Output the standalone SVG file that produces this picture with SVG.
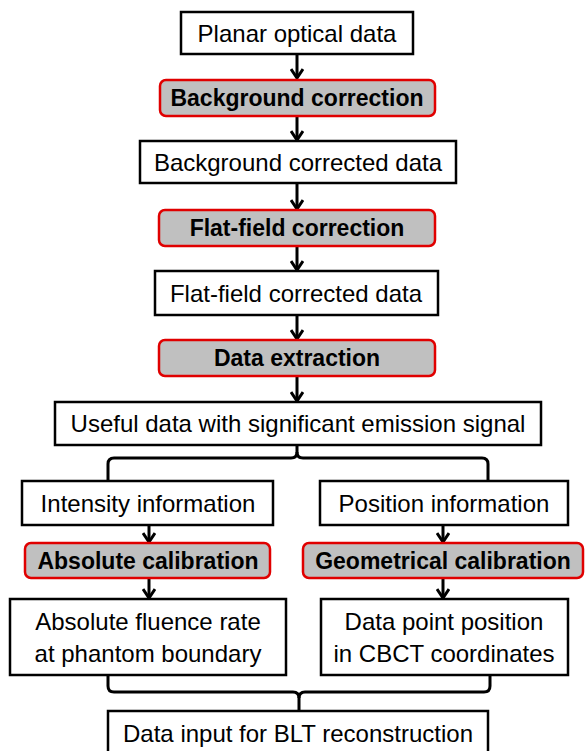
<svg xmlns="http://www.w3.org/2000/svg" width="586" height="751" viewBox="0 0 586 751">
<defs>
<style>
.box{fill:#fff;stroke:#000;stroke-width:2.5}
.step{fill:#c0c0c0;stroke:#e00000;stroke-width:2.5}
.t{font-family:"Liberation Sans",Arial,sans-serif;font-size:24px;fill:#000;text-anchor:middle}
.b{font-weight:bold;font-size:23px}
.c{fill:none;stroke:#000;stroke-width:3}
</style>
<marker id="ah" viewBox="0 0 12 14" refX="10" refY="7" markerWidth="12" markerHeight="14" markerUnits="userSpaceOnUse" orient="auto">
<path d="M1,1 L10,7 L1,13" fill="none" stroke="#000" stroke-width="3"/>
</marker>
</defs>
<g id="connectors">
<path class="c" d="M297,54 V78" marker-end="url(#ah)"/>
<path class="c" d="M297,116 V140" marker-end="url(#ah)"/>
<path class="c" d="M297,183 V209" marker-end="url(#ah)"/>
<path class="c" d="M297,246 V270" marker-end="url(#ah)"/>
<path class="c" d="M297,315 V339" marker-end="url(#ah)"/>
<path class="c" d="M297,376 V401" marker-end="url(#ah)"/>
<path class="c" d="M297,445 V452 Q297,458 291,458 H114 Q108,458 108,464 V481"/>
<path class="c" d="M297,452 Q297,458 303,458 H482 Q488,458 488,464 V481"/>
<path class="c" d="M149,525 V542" marker-end="url(#ah)"/>
<path class="c" d="M443,525 V542" marker-end="url(#ah)"/>
<path class="c" d="M149,578 V598" marker-end="url(#ah)"/>
<path class="c" d="M443,578 V598" marker-end="url(#ah)"/>
<path class="c" d="M108,675 V686 Q108,692 114,692 H293 Q299,692 299,698 V711"/>
<path class="c" d="M490,675 V686 Q490,692 484,692 H305 Q299,692 299,698"/>
</g>
<g id="n1"><rect class="box" x="181" y="12" width="232" height="42"/><text class="t" x="297" y="41.5">Planar optical data</text></g>
<g id="n2"><rect class="step" x="160" y="80" width="275" height="36" rx="6"/><text class="t b" x="297" y="106">Background correction</text></g>
<g id="n3"><rect class="box" x="140" y="141" width="316" height="42"/><text class="t" x="298" y="170.5">Background corrected data</text></g>
<g id="n4"><rect class="step" x="159" y="210" width="276" height="36" rx="6"/><text class="t b" x="297" y="236">Flat-field correction</text></g>
<g id="n5"><rect class="box" x="155" y="271" width="283" height="44"/><text class="t" x="296" y="301.5">Flat-field corrected data</text></g>
<g id="n6"><rect class="step" x="159" y="340" width="276" height="36" rx="6"/><text class="t b" x="297" y="366">Data extraction</text></g>
<g id="n7"><rect class="box" x="55" y="402" width="486" height="43"/><text class="t" x="298" y="432">Useful data with significant emission signal</text></g>
<g id="n8"><rect class="box" x="22" y="481" width="251" height="44"/><text class="t" x="148" y="511.5">Intensity information</text></g>
<g id="n9"><rect class="box" x="320" y="481" width="248" height="44"/><text class="t" x="444" y="511.5">Position information</text></g>
<g id="n10"><rect class="step" x="25" y="543" width="245" height="35" rx="6"/><text class="t b" x="148" y="568.5">Absolute calibration</text></g>
<g id="n11"><rect class="step" x="303" y="543" width="280" height="35" rx="6"/><text class="t b" x="443" y="568.5">Geometrical calibration</text></g>
<g id="n12"><rect class="box" x="10" y="599" width="276" height="76"/><text class="t" x="148" y="630">Absolute fluence rate</text><text class="t" x="148" y="662">at phantom boundary</text></g>
<g id="n13"><rect class="box" x="321" y="599" width="247" height="76"/><text class="t" x="444" y="630">Data point position</text><text class="t" x="444" y="662">in CBCT coordinates</text></g>
<g id="n14"><rect class="box" x="108" y="711" width="380" height="46"/><text class="t" x="298" y="742">Data input for BLT reconstruction</text></g>
</svg>
